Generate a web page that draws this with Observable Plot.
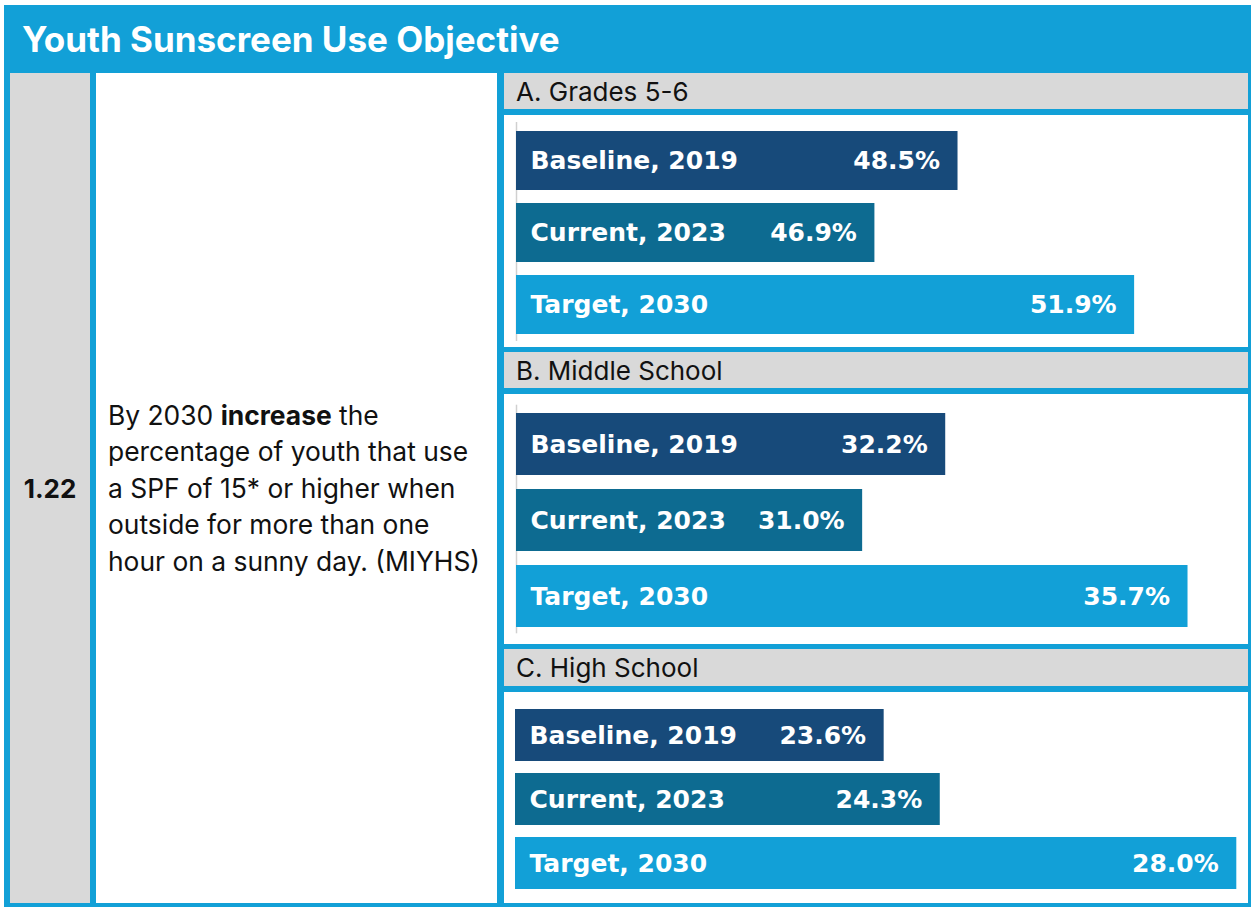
<!DOCTYPE html>
<html>
<head>
<meta charset="utf-8">
<script src="https://cdn.jsdelivr.net/npm/d3@7"></script>
<script src="https://cdn.jsdelivr.net/npm/@observablehq/plot@0.6"></script>
<style>
  html, body { margin: 0; padding: 0; background: #ffffff; }
  #page { position: relative; width: 1251px; height: 907px; overflow: hidden; font-family: Inter, Roboto, "Noto Sans", sans-serif; }
  .abs { position: absolute; }
  #frame { left: 4px; top: 5px; width: 1247px; height: 902px; background: #12a0d7; }
  #title { left: 22px; top: 5px; height: 68px; line-height: 68px; color: #ffffff; font-weight: 700; font-size: 35px; white-space: nowrap; }
  #numcol { left: 10px; top: 73px; width: 80px; height: 830px; background: #d9d9d9; display: flex; align-items: center; justify-content: center; font-weight: 700; font-size: 26px; color: #111; }
  #textcol { left: 96px; top: 73px; width: 401px; height: 830px; background: #ffffff; display: flex; align-items: center; }
  #textcol p { margin: 0 0 0 12px; font-size: 26.4px; line-height: 36.6px; color: #111; white-space: nowrap; }
  .phead { left: 504px; width: 744px; background: #d9d9d9; display: flex; align-items: center; font-size: 26px; color: #111; }
  .phead span { margin-left: 12px; }
  .pchart { left: 504px; width: 744px; background: #ffffff; }
  .pchart svg { display: block; }
</style>
</head>
<body>
<div id="page">
  <div id="frame" class="abs"></div>
  <div id="title" class="abs"></div>
  <div id="numcol" class="abs"></div>
  <div id="textcol" class="abs"><p id="objective"></p></div>
</div>
<script>
// ---- data ----
const chartTitle = "Youth Sunscreen Use Objective";
const objectiveNumber = "1.22";
const objectiveLines = [
  "By 2030 <b>increase</b> the",
  "percentage of youth that use",
  "a SPF of 15* or higher when",
  "outside for more than one",
  "hour on a sunny day. (MIYHS)"
];
const categories = ["Baseline, 2019", "Current, 2023", "Target, 2030"];
const panelTitles = ["A. Grades 5-6", "B. Middle School", "C. High School"];
const grades56 = [48.5, 46.9, 51.9];
const middleSchool = [32.2, 31.0, 35.7];
const highSchool = [23.6, 24.3, 28.0];
const axisMin = [40, 26, 19];
const axisMax = [54, 36.5, 28];

// ---- styles / layout ----
const barColors = ["#174a7a", "#0d6b91", "#12a0d7"];
const panelLayout = [
  {headTop: 73, headH: 36, top: 115, h: 232, mt: 15, mb: 12, ml: 12, mr: 4.8, pad: 0.18, axis: true},
  {headTop: 352, headH: 36, top: 394, h: 250, mt: 18.7, mb: 16.7, ml: 12, mr: 5.1, pad: 0.183, axis: true},
  {headTop: 649, headH: 37, top: 692, h: 211, mt: 16.3, mb: 13, ml: 11, mr: 11.7, pad: 0.186, axis: false}
];

document.getElementById("title").textContent = chartTitle;
document.getElementById("numcol").textContent = objectiveNumber;
document.getElementById("objective").innerHTML = objectiveLines.join("<br>");

const page = document.getElementById("page");
const series = [grades56, middleSchool, highSchool];

series.forEach((vals, i) => {
  const L = panelLayout[i];
  const head = document.createElement("div");
  head.className = "abs phead";
  head.style.top = L.headTop + "px";
  head.style.height = L.headH + "px";
  head.innerHTML = "<span></span>";
  head.firstChild.textContent = panelTitles[i];
  page.appendChild(head);

  const box = document.createElement("div");
  box.className = "abs pchart";
  box.style.top = L.top + "px";
  box.style.height = L.h + "px";
  page.appendChild(box);

  const rows = categories.map((c, j) => ({category: c, value: vals[j]}));
  const xmin = axisMin[i];
  const marks = [];
  if (L.axis) {
    marks.push(Plot.ruleX([xmin], {stroke: "#d0d0d0", strokeWidth: 1.5, insetTop: -8, insetBottom: -6}));
  }
  marks.push(
    Plot.barX(rows, {x1: () => xmin, x2: "value", y: "category", fill: "category"}),
    Plot.text(rows, {x: () => xmin, y: "category", text: "category", textAnchor: "start", dx: 14,
      fill: "#ffffff", fontSize: 25, fontWeight: 700}),
    Plot.text(rows, {x: "value", y: "category", text: d => d.value.toFixed(1) + "%", textAnchor: "end", dx: -18,
      fill: "#ffffff", fontSize: 25, fontWeight: 700})
  );
  const chart = Plot.plot({
    width: 744,
    height: L.h,
    marginTop: L.mt,
    marginBottom: L.mb,
    marginLeft: L.ml,
    marginRight: L.mr,
    style: {fontFamily: "'DejaVu Sans', sans-serif", background: "transparent"},
    x: {domain: [xmin, axisMax[i]], axis: null},
    y: {domain: categories, axis: null, paddingInner: L.pad, paddingOuter: 0},
    color: {domain: categories, range: barColors},
    marks
  });
  box.appendChild(chart);
});
</script>
</body>
</html>
